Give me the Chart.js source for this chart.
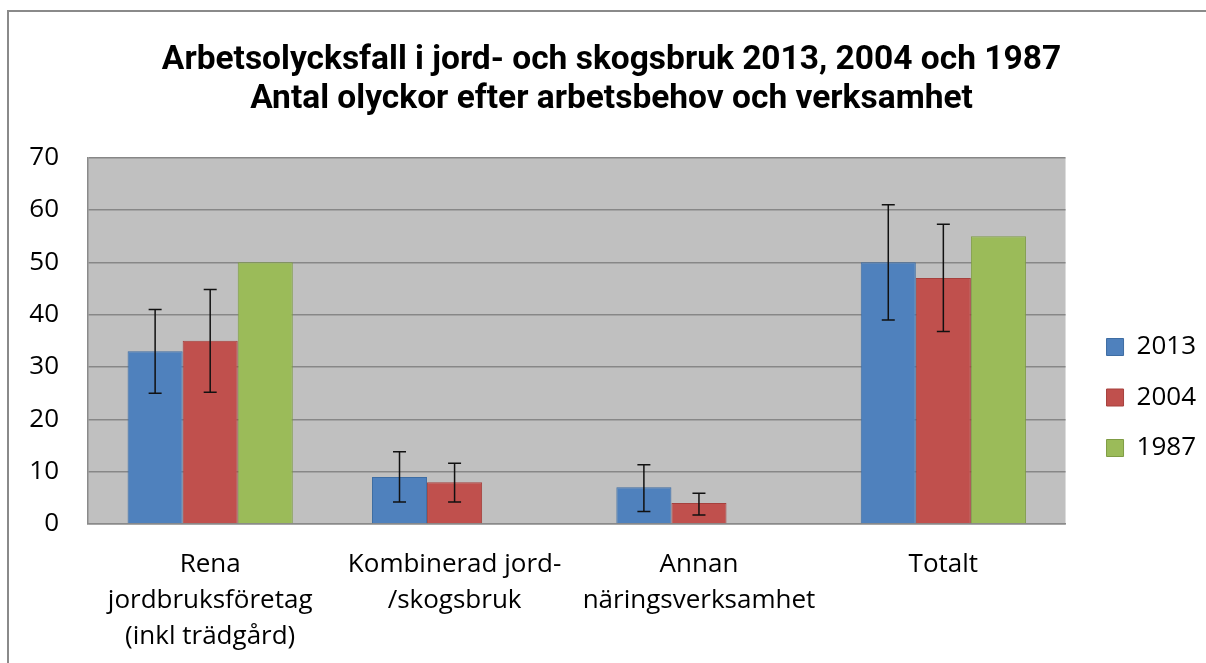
<!DOCTYPE html>
<html>
<head>
<meta charset="utf-8">
<script src="https://cdn.jsdelivr.net/npm/chart.js@4"></script>
<style>
  html, body { margin: 0; padding: 0; background: #fff; }
  #wrap { position: relative; width: 1206px; height: 663px; overflow: hidden; }
  #frame { position: absolute; left: 7px; top: 10px; width: 1300px; height: 800px;
           border-left: 2px solid #8a8a8a; border-top: 2px solid #8a8a8a; }
  canvas { position: absolute; left: 0; top: 0; }
</style>
</head>
<body>
<div id="wrap">
  <div id="frame"></div>
  <canvas id="c" width="1206" height="663"></canvas>
</div>
<script>
const titleLines = ['Arbetsolycksfall i jord- och skogsbruk 2013, 2004 och 1987',
                    'Antal olyckor efter arbetsbehov och verksamhet'];
const categories = [
  ['Rena', 'jordbruksföretag', '(inkl trädgård)'],
  ['Kombinerad jord-', '/skogsbruk'],
  ['Annan', 'näringsverksamhet'],
  'Totalt'
];
const seriesNames = ['2013', '2004', '1987'];
const values2013 = [33, 9, 7, 50];
const values2004 = [35, 8, 4, 47];
const values1987 = [50, null, null, 55];
const errLow2013  = [25, 4.2, 2.4, 39];
const errHigh2013 = [41, 13.8, 11.3, 61];
const errLow2004  = [25.2, 4.2, 1.7, 36.8];
const errHigh2004 = [44.8, 11.6, 5.9, 57.3];
const yTicks = [0, 10, 20, 30, 40, 50, 60, 70];

const FONT = "'Open Sans', 'DejaVu Sans', sans-serif";

const plotBg = {
  id: 'plotBg',
  beforeDraw(chart) {
    const {ctx, chartArea: a} = chart;
    ctx.save();
    ctx.fillStyle = '#c0c0c0';
    ctx.fillRect(a.left, a.top, a.right - a.left, a.bottom - a.top);
    ctx.restore();
  }
};

const errorBars = {
  id: 'errorBars',
  afterDatasetsDraw(chart) {
    const {ctx} = chart;
    const y = chart.scales.y;
    chart.data.datasets.forEach((ds, i) => {
      if (!ds.errLow) return;
      const meta = chart.getDatasetMeta(i);
      meta.data.forEach((el, j) => {
        const lo = ds.errLow[j], hi = ds.errHigh[j];
        if (lo == null || hi == null) return;
        const x = el.x;
        const yl = y.getPixelForValue(lo), yh = y.getPixelForValue(hi);
        ctx.save();
        ctx.strokeStyle = '#111';
        ctx.lineWidth = 1.5;
        ctx.beginPath();
        ctx.moveTo(x, yl); ctx.lineTo(x, yh);
        ctx.moveTo(x - 6.5, yl); ctx.lineTo(x + 6.5, yl);
        ctx.moveTo(x - 6.5, yh); ctx.lineTo(x + 6.5, yh);
        ctx.stroke();
        ctx.restore();
      });
    });
  }
};

new Chart(document.getElementById('c'), {
  type: 'bar',
  data: {
    labels: categories,
    datasets: [
      { label: seriesNames[0], data: values2013, backgroundColor: '#4f81bd', borderColor: '#3e6da3', borderWidth: 1,
        errLow: errLow2013, errHigh: errHigh2013 },
      { label: seriesNames[1], data: values2004, backgroundColor: '#c0504d', borderColor: '#a6403d', borderWidth: 1,
        errLow: errLow2004, errHigh: errHigh2004 },
      { label: seriesNames[2], data: values1987, backgroundColor: '#9bbb59', borderColor: '#7f9c45', borderWidth: 1 }
    ]
  },
  options: {
    responsive: false,
    animation: false,
    events: [],
    layout: { padding: { left: 17, right: 0, top: 0, bottom: 0 } },
    datasets: { bar: { categoryPercentage: 0.676, barPercentage: 1.0 } },
    plugins: {
      tooltip: { enabled: false },
      title: {
        display: true,
        text: titleLines,
        color: '#000',
        font: { family: "'Liberation Sans Narrow', 'Roboto', sans-serif", size: 33.5, weight: 'bold', lineHeight: 1.16 },
        padding: { top: 41.5, bottom: 38.5 }
      },
      legend: {
        position: 'right',
        align: 'center',
        title: { display: true, text: '', font: { size: 10, lineHeight: 1 }, padding: { top: 122, bottom: 0 } },
        labels: {
          boxWidth: 17, boxHeight: 17, padding: 24.5, color: '#000',
          font: { family: FONT, size: 26 }
        }
      }
    },
    scales: {
      x: {
        grid: { display: false },
        border: { display: true, color: '#8a8a8a', width: 1.5 },
        ticks: { color: '#000', font: { family: FONT, size: 26, lineHeight: 1.4 }, padding: 14,
                 maxRotation: 0, minRotation: 0, autoSkip: false },
        afterFit(s) { s.height = 139; }
      },
      y: {
        min: 0, max: 70,
        afterBuildTicks(s) { s.ticks = yTicks.map(v => ({ value: v })); },
        grid: { color: '#878787', lineWidth: 1.5, drawTicks: false },
        border: { display: true, color: '#8a8a8a', width: 1.5 },
        ticks: { color: '#000', font: { family: FONT, size: 26 }, padding: 29 },
        afterFit(s) { s.width = 71; }
      },
      gap: {
        position: 'right', min: 0, max: 70,
        grid: { display: false }, border: { display: false },
        ticks: { display: false },
        afterFit(s) { s.width = 16.5; }
      }
    }
  },
  plugins: [plotBg, errorBars]
});
</script>
</body>
</html>
